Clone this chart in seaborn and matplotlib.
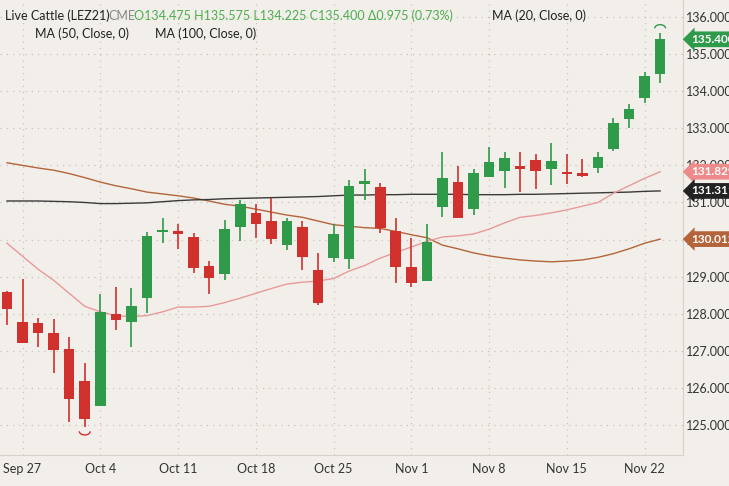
import numpy as np
import pandas as pd
import matplotlib
matplotlib.use("Agg")
import matplotlib.pyplot as plt
from matplotlib.patches import Arc
import seaborn as sns

dates = pd.bdate_range("2021-09-24", "2021-11-23")
opens  = [128.59,127.78,127.75,127.48,127.05,126.19,125.51,127.99,127.78,128.43,130.20,130.20,130.07,129.29,129.07,
          130.34,130.72,130.50,129.85,130.34,129.18,129.50,129.48,131.50,131.42,130.23,129.26,128.88,130.88,131.55,
          130.83,131.69,131.85,131.98,132.15,131.90,131.78,131.80,131.93,132.44,133.25,133.82,134.475]
highs  = [128.60,128.94,127.89,127.86,127.37,126.67,128.53,128.72,128.69,130.20,130.58,130.42,130.18,129.42,130.53,
          131.07,130.96,131.12,130.58,130.50,129.64,130.42,131.61,131.90,131.53,130.58,130.04,130.42,132.36,131.98,
          131.90,132.50,132.36,132.36,132.30,132.60,132.30,132.17,132.36,133.28,133.66,134.52,135.575]
lows   = [127.70,127.20,127.10,126.40,125.08,124.95,125.51,127.56,127.10,128.02,129.90,129.75,129.10,128.53,128.91,
          129.96,130.04,129.88,129.72,129.18,128.24,129.40,129.21,131.07,130.18,128.83,128.72,128.88,130.61,130.58,
          130.66,131.69,131.40,131.28,131.36,131.47,131.50,131.70,131.80,132.39,133.00,133.68,134.225]
closes = [128.13,127.21,127.48,127.02,125.70,125.16,128.05,127.83,128.21,130.10,130.24,130.16,129.23,128.97,130.29,
          130.96,130.42,130.02,130.50,129.53,128.30,130.15,131.45,131.58,130.31,129.26,128.83,129.94,131.66,130.58,
          131.80,132.09,132.20,131.90,131.85,132.12,131.76,131.71,132.23,133.14,133.52,134.41,135.400]
ma20 = [129.9,129.55,129.2,128.9,128.55,128.2,128.05,127.95,127.92,127.95,128.05,128.18,128.18,128.2,128.3,128.42,
        128.55,128.68,128.8,128.85,128.88,128.95,129.15,129.3,129.5,129.65,129.8,129.95,130.07,130.1,130.15,130.28,
        130.45,130.6,130.65,130.72,130.8,130.9,131.0,131.25,131.45,131.65,131.829]
ma50 = [132.07,132.0,131.93,131.87,131.78,131.67,131.55,131.45,131.37,131.28,131.23,131.18,131.12,131.04,130.95,
        130.9,130.82,130.74,130.66,130.6,130.5,130.4,130.36,130.32,130.3,130.22,130.13,130.05,129.85,129.75,129.64,
        129.56,129.5,129.45,129.42,129.4,129.42,129.45,129.52,129.62,129.75,129.9,130.012]
ma100 = [131.04,131.04,131.04,131.03,131.02,131.0,130.97,130.97,130.98,130.99,131.02,131.05,131.07,131.08,131.1,
         131.11,131.12,131.13,131.14,131.15,131.16,131.18,131.2,131.2,131.21,131.21,131.22,131.22,131.22,131.22,
         131.21,131.21,131.21,131.22,131.22,131.23,131.24,131.25,131.26,131.27,131.28,131.3,131.311]
ytick_vals = [125,126,127,128,129,130,131,132,133,134,135,136]
xtick_labels = ["Sep 27","Oct 4","Oct 11","Oct 18","Oct 25","Nov 1","Nov 8","Nov 15","Nov 22"]

BG = "#f2efea"
GREEN = "#2e9a4a"
RED = "#d0312d"
PINK = "#e89a9a"
BROWN = "#b4643a"
DARK = "#3a3a3a"

plt.rcParams["font.family"] = "Lato"

df = pd.DataFrame({"date": dates, "open": opens, "high": highs, "low": lows, "close": closes,
                   "ma20": ma20, "ma50": ma50, "ma100": ma100})
df["i"] = np.arange(len(df))
df["up"] = df["close"] >= df["open"]

fig = plt.figure(figsize=(7.29, 4.86), dpi=100, facecolor=BG)
ax = fig.add_axes([0, 1 - 455/486, 683/729, 455/486])
ax.set_facecolor(BG)

for col, c, lw in [("ma50", BROWN, 1.0), ("ma100", DARK, 1.0), ("ma20", PINK, 1.0)]:
    sns.lineplot(data=df, x="i", y=col, color=c, lw=lw, ax=ax)

colors = np.where(df["up"], GREEN, RED)
ax.vlines(df["i"], df["low"], df["high"], colors=colors, lw=1.2, zorder=3)
body_lo = np.minimum(df["open"], df["close"])
body_h = np.maximum(np.abs(df["close"] - df["open"]), 0.06)
ax.bar(df["i"], body_h, bottom=body_lo, width=0.68, color=colors, zorder=4)

imin = int(np.argmin(lows)); imax = int(np.argmax(highs))
ax.add_patch(Arc((imin, lows[imin] - 0.12), 0.7, 0.2, theta1=180, theta2=360, color=RED, lw=1))
ax.add_patch(Arc((imax, highs[imax] + 0.12), 0.7, 0.2, theta1=0, theta2=180, color=GREEN, lw=1))

ax.set_xlim(-0.45, 43.47)
ax.set_ylim(124.19, 136.46)
xt = [df.index[df["date"] == pd.Timestamp(f"2021 {d}")][0] for d in xtick_labels]
ax.set_xticks(xt)
ax.set_xticklabels(xtick_labels, fontsize=9, color="#333")
ax.set_yticks(ytick_vals)
ax.set_yticklabels([f"{v:.3f}" for v in ytick_vals], fontsize=9, color="#333")
ax.yaxis.tick_right()
ax.tick_params(axis="y", length=0, pad=2)
ax.tick_params(axis="x", length=0, pad=6)
ax.grid(True, ls=(0, (1, 4)), color="#c8c4bc", lw=0.9)
ax.set_xlabel(""); ax.set_ylabel("")
for s in ["top", "left"]:
    ax.spines[s].set_visible(False)
ax.spines["right"].set_color("#d6d2ca")
ax.spines["bottom"].set_color("#d6d2ca")

def tag(v, fc, tc="white"):
    ax.annotate(f"{v:.3f}", xy=(1.0, v), xycoords=("axes fraction", "data"), xytext=(6, 0),
                textcoords="offset points", va="center", ha="left", fontsize=8.5, color=tc,
                fontweight="bold",
                bbox=dict(boxstyle="larrow,pad=0.2", fc=fc, ec="none"), annotation_clip=False)
tag(closes[-1], GREEN)
tag(ma20[-1], "#ee8a8a")
tag(ma100[-1], "#222222")
tag(ma50[-1], BROWN)

fs = 9
fig.text(5/729, 1 - 16/486, "Live Cattle (LEZ21)", fontsize=fs, color="#222", va="center")
fig.text(108/729, 1 - 16/486, "CME", fontsize=fs, color="#888", va="center")
fig.text(134/729, 1 - 16/486, "O134.475 H135.575 L134.225 C135.400 Δ0.975 (0.73%)", fontsize=fs,
         color="#4caf50", va="center")
fig.text(492/729, 1 - 16/486, "MA (20, Close, 0)", fontsize=fs, color="#222", va="center")
fig.text(35/729, 1 - 34/486, "MA (50, Close, 0)", fontsize=fs, color="#222", va="center")
fig.text(155/729, 1 - 34/486, "MA (100, Close, 0)", fontsize=fs, color="#222", va="center")

fig.savefig("out.png", dpi=100, facecolor=BG)
